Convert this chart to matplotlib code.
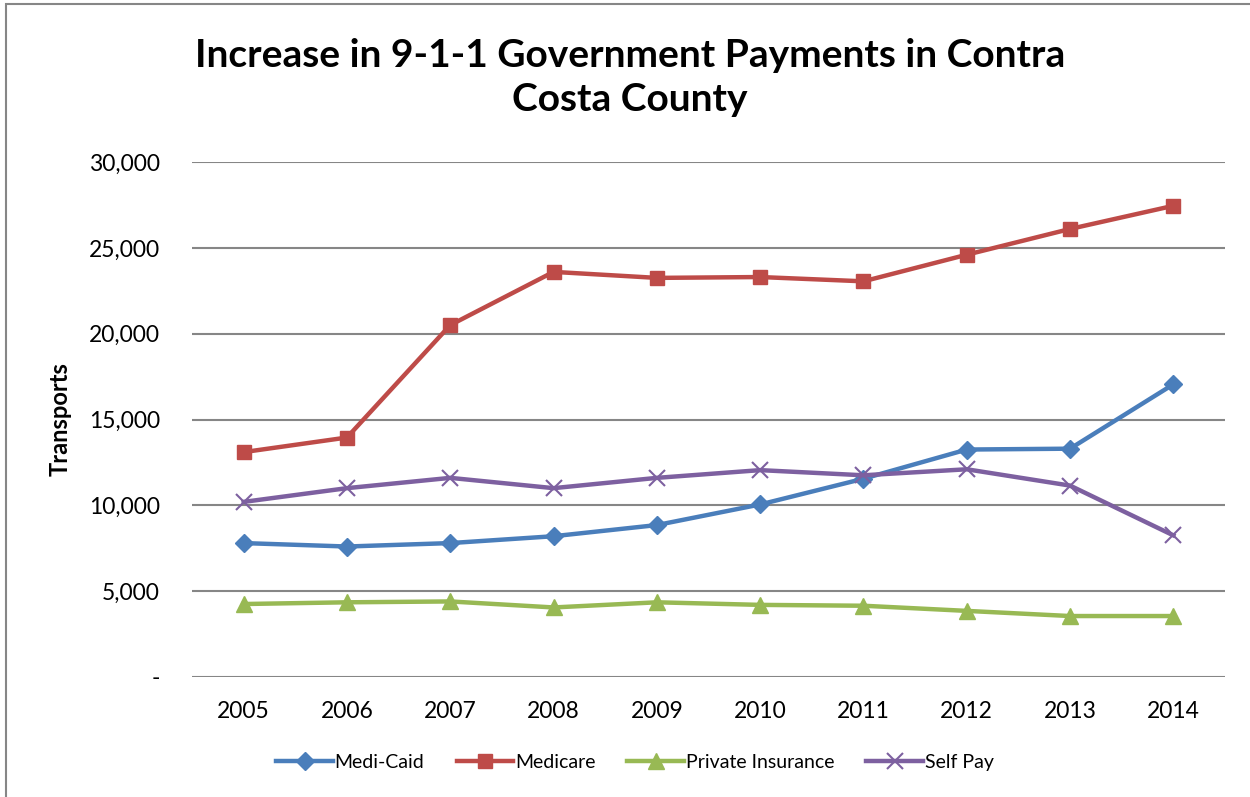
import matplotlib.pyplot as plt
import matplotlib.ticker as mticker
from matplotlib.patches import Rectangle

plt.rcParams['font.family'] = ['Lato', 'DejaVu Sans']

years = ['2005', '2006', '2007', '2008', '2009', '2010', '2011', '2012', '2013', '2014']
medi_caid = [7800, 7600, 7800, 8200, 8850, 10050, 11550, 13250, 13300, 17050]
medicare = [13100, 13950, 20500, 23600, 23250, 23300, 23050, 24600, 26100, 27450]
private_ins = [4250, 4350, 4400, 4050, 4350, 4200, 4150, 3850, 3550, 3550]
self_pay = [10200, 11000, 11600, 11000, 11600, 12050, 11750, 12100, 11150, 8250]

fig = plt.figure(figsize=(12.5, 7.97), dpi=100)
ax = fig.add_axes([0.1536, 0.1506, 0.8264, 0.6461])

x = range(len(years))
ax.plot(x, medi_caid, color='#4A7EBB', lw=3.2, marker='D', ms=9, label='Medi-Caid')
ax.plot(x, medicare, color='#BE4B48', lw=3.2, marker='s', ms=10, label='Medicare')
ax.plot(x, private_ins, color='#98B954', lw=3.2, marker='^', ms=11, label='Private Insurance')
ax.plot(x, self_pay, color='#7D60A0', lw=3.2, marker='x', ms=11, mew=1.5, label='Self Pay')

ax.set_xlim(-0.5, 9.5)
ax.set_ylim(0, 30000)
ax.set_xticks(list(x))
ax.set_xticklabels(years)
ax.set_yticks(range(0, 30001, 5000))
ax.yaxis.set_major_formatter(mticker.FuncFormatter(lambda v, p: '-' if v == 0 else f'{int(v):,}'))
ax.tick_params(length=0, labelsize=16.5)
ax.tick_params(axis='x', pad=17)
ax.tick_params(axis='y', pad=23)
ax.yaxis.grid(True, color='#868686', lw=1.5)
ax.set_axisbelow(True)
for s in ax.spines.values():
    s.set_visible(False)

ax.set_ylabel('Transports', fontsize=17, fontweight='bold', va='center')
ax.yaxis.set_label_coords(-0.128, 0.5)

fig.text(0.504, 0.903, 'Increase in 9-1-1 Government Payments in Contra\nCosta County',
         ha='center', va='center', fontsize=28, fontweight='bold', linespacing=1.3)

fig.legend(loc='center', bbox_to_anchor=(0.508, 0.043), ncol=4, frameon=False,
           fontsize=14, handlelength=2.9, handletextpad=0.1, columnspacing=1.65)

fig.patches.append(Rectangle((0.005, -0.01), 1.0, 1.0044, transform=fig.transFigure,
                             fill=False, edgecolor='#868686', lw=1.5))

fig.savefig('out.png', dpi=100)
